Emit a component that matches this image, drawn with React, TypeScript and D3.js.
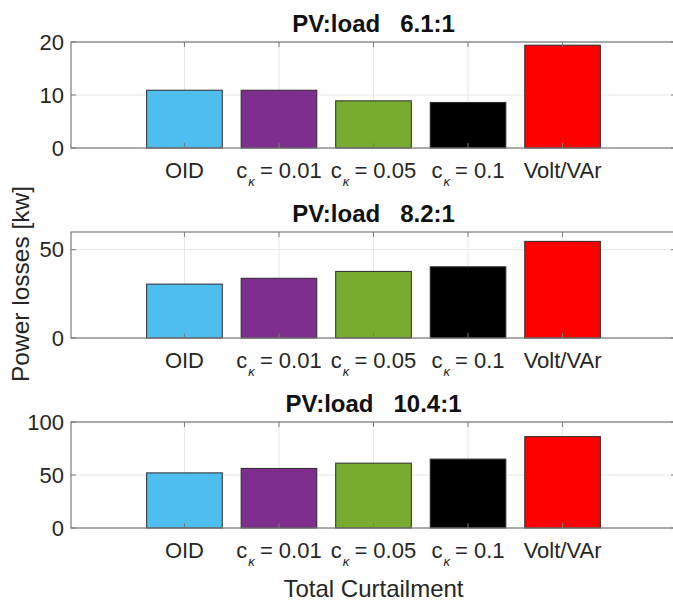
import React from "react";
import * as d3 from "d3";

const categories = ["OID", "c_κ = 0.01", "c_κ = 0.05", "c_κ = 0.1", "Volt/VAr"];
const barColors = ["#4DBEEE", "#7E2F8E", "#77AC30", "#000000", "#FF0000"];

const titles = ["PV:load   6.1:1", "PV:load   8.2:1", "PV:load   10.4:1"];
const lossesRatio61 = [10.9, 10.9, 8.9, 8.6, 19.4];
const lossesRatio82 = [30.5, 33.8, 37.7, 40.3, 54.7];
const lossesRatio104 = [52.0, 56.2, 61.2, 65.0, 86.2];
const yMaxes = [20, 60, 100];
const yTickValues = [
  [0, 10, 20],
  [0, 50],
  [0, 50, 100],
];
const yLabel = "Power losses [kw]";
const xLabel = "Total Curtailment";

const W = 673;
const H = 602;
const FONT = "'Liberation Sans', Arial, Helvetica, sans-serif";
const TEXT = "#262626";
const AXIS = "#7a7a7a";
const GRID = "#e6e6e6";

const panelTops = [42, 232, 422];
const panelH = 106;
const left = 71;
const right = 676;
const TICK_FS = 22;

function TickLabel({ label, x, y }: { label: string; x: number; y: number }) {
  if (label.includes("_")) {
    const [base, rest] = label.split("_");
    const sub = rest.charAt(0);
    const tail = rest.slice(1);
    return (
      <text
        x={x}
        y={y}
        textAnchor="middle"
        fontFamily={FONT}
        fontSize={TICK_FS}
        fill={TEXT}
        style={{ whiteSpace: "pre" }}
      >
        <tspan>{base}</tspan>
        <tspan dx={1} dy={8} fontSize={13} fontStyle="italic">{sub}</tspan>
        <tspan dx={-1} dy={-8}>{tail}</tspan>
      </text>
    );
  }
  return (
    <text x={x} y={y} textAnchor="middle" fontFamily={FONT} fontSize={TICK_FS} fill={TEXT}>
      {label}
    </text>
  );
}

function Panel({ idx, values }: { idx: number; values: number[] }) {
  const top = panelTops[idx];
  const bottom = top + panelH;
  const x = d3.scaleLinear().domain([-0.2, 6.2]).range([left, right]);
  const y = d3.scaleLinear().domain([0, yMaxes[idx]]).range([bottom, top]);
  const slots = categories.map((_, i) => i + 1);
  const bw = 0.8 * (x(2) - x(1));
  const tl = 5;
  return (
    <g>
      {slots.map((s) => (
        <line key={"gx" + s} x1={x(s)} x2={x(s)} y1={top} y2={bottom} stroke={GRID} strokeWidth={1} />
      ))}
      {yTickValues[idx].map((t) => (
        <line key={"gy" + t} x1={left} x2={right} y1={y(t)} y2={y(t)} stroke={GRID} strokeWidth={1} />
      ))}
      {values.map((v, i) => (
        <rect
          key={"b" + i}
          x={x(slots[i]) - bw / 2}
          y={y(v)}
          width={bw}
          height={y(0) - y(v)}
          fill={barColors[i]}
          stroke="#2b2b2b"
          strokeWidth={1}
        />
      ))}
      {slots.map((s) => (
        <g key={"tx" + s}>
          <line x1={x(s)} x2={x(s)} y1={bottom} y2={bottom - tl} stroke={AXIS} strokeWidth={1} />
          <line x1={x(s)} x2={x(s)} y1={top} y2={top + tl} stroke={AXIS} strokeWidth={1} />
        </g>
      ))}
      {yTickValues[idx].map((t) => (
        <g key={"ty" + t}>
          <line x1={left} x2={left + tl} y1={y(t)} y2={y(t)} stroke={AXIS} strokeWidth={1} />
          <line x1={right} x2={right - tl} y1={y(t)} y2={y(t)} stroke={AXIS} strokeWidth={1} />
          <text x={left - 7} y={y(t)} dy="0.35em" textAnchor="end" fontFamily={FONT} fontSize={TICK_FS} fill={TEXT}>
            {t}
          </text>
        </g>
      ))}
      <rect x={left} y={top} width={right - left} height={panelH} fill="none" stroke={AXIS} strokeWidth={1.2} />
      {categories.map((c, i) => (
        <TickLabel key={"l" + i} label={c} x={x(slots[i])} y={bottom + 30} />
      ))}
      <text
        x={(left + right) / 2}
        y={top - 10}
        textAnchor="middle"
        fontFamily={FONT}
        fontSize={24}
        fontWeight="bold"
        fill="#111"
        style={{ whiteSpace: "pre" }}
      >
        {titles[idx]}
      </text>
    </g>
  );
}

export default function App() {
  const series = [lossesRatio61, lossesRatio82, lossesRatio104];
  return (
    <svg
      width={W}
      height={H}
      viewBox={`0 0 ${W} ${H}`}
      style={{ position: "absolute", left: 0, top: 0, background: "#fff" }}
    >
      <rect x={0} y={0} width={W} height={H} fill="#fff" />
      {series.map((vals, i) => (
        <Panel key={i} idx={i} values={vals} />
      ))}
      <text
        transform={`translate(29,284) rotate(-90)`}
        textAnchor="middle"
        fontFamily={FONT}
        fontSize={24.5}
        fill={TEXT}
      >
        {yLabel}
      </text>
      <text x={(left + right) / 2} y={597} textAnchor="middle" fontFamily={FONT} fontSize={24} fill={TEXT}>
        {xLabel}
      </text>
    </svg>
  );
}
